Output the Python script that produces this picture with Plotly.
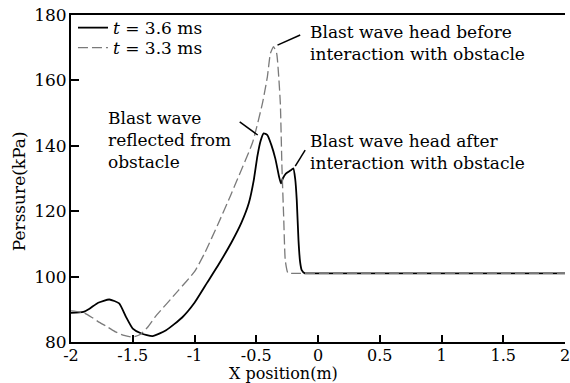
import plotly.graph_objects as go

# t = 3.6 ms (solid)
x_36 = [-2.0, -1.90, -1.85, -1.78, -1.69, -1.61, -1.555, -1.50, -1.43, -1.34, -1.23, -1.10,
        -1.00, -0.90, -0.80, -0.70, -0.62, -0.56, -0.52, -0.49, -0.465, -0.44, -0.41,
        -0.38, -0.345, -0.315, -0.30, -0.285, -0.26, -0.22, -0.20, -0.185, -0.172,
        -0.158, -0.145, -0.132, -0.106, -0.05, 2.0]
p_36 = [88.9, 89.2, 90.2, 92.0, 93.0, 91.8, 87.7, 84.1, 82.6, 81.8, 83.6, 87.5,
        92.0, 98.0, 104.0, 110.5, 116.5, 122.5, 129.5, 137.0, 141.5, 143.8, 143.3,
        140.5, 136.0, 130.5, 128.5, 130.0, 131.5, 132.5, 133.1, 130.0, 123.4,
        111.1, 104.5, 102.0, 101.0, 101.0, 101.0]

# t = 3.3 ms (dashed)
x_33 = [-2.0, -1.90, -1.83, -1.77, -1.70, -1.64, -1.57, -1.50, -1.44, -1.38, -1.32, -1.13,
        -1.00, -0.92, -0.81, -0.70, -0.65, -0.53, -0.45, -0.41, -0.385, -0.36, -0.335,
        -0.318, -0.305, -0.292, -0.278, -0.265, -0.245, -0.23, -0.15, 2.0]
p_33 = [89.5, 89.0, 87.5, 86.0, 84.5, 83.1, 82.0, 81.5, 82.3, 84.5, 87.6, 95.8,
        101.5, 107.0, 116.0, 125.5, 130.0, 141.0, 153.0, 161.1, 168.3, 170.3, 168.3,
        161.1, 153.0, 133.6, 118.3, 105.0, 101.2, 101.0, 101.0, 101.0]

series_names = ["<i>t</i> = 3.6 ms", "<i>t</i> = 3.3 ms"]
x_ticks = [-2, -1.5, -1, -0.5, 0, 0.5, 1, 1.5, 2]
x_tick_text = ["-2", "-1.5", "-1", "-0.5", "0", "0.5", "1", "1.5", "2"]
y_ticks = [80, 100, 120, 140, 160, 180]

FONT = "DejaVu Serif"

fig = go.Figure()
fig.add_trace(go.Scatter(x=x_36, y=p_36, mode="lines", name=series_names[0], legend="legend",
                         line=dict(color="black", width=1.8, shape="spline", smoothing=0.5)))
fig.add_trace(go.Scatter(x=x_33, y=p_33, mode="lines", name=series_names[1], legend="legend2",
                         line=dict(color="#7a7a7a", width=1.3, dash="10px,4px",
                                   shape="spline", smoothing=0.5)))

ann_font = dict(family=FONT, size=17, color="black")
fig.add_annotation(x=-0.082, y=171.4, xref="x", yref="y", xanchor="left", yanchor="middle",
                   align="left", showarrow=False, font=ann_font,
                   text="Blast wave head before<br>interaction with obstacle")
fig.add_annotation(x=-0.082, y=138.0, xref="x", yref="y", xanchor="left", yanchor="middle",
                   align="left", showarrow=False, font=ann_font,
                   text="Blast wave head after<br>interaction with obstacle")
fig.add_annotation(x=-1.72, y=141.7, xref="x", yref="y", xanchor="left", yanchor="middle",
                   align="left", showarrow=False, font=ann_font,
                   text="Blast wave<br>reflected from<br>obstacle")

leader = dict(color="black", width=1.5)
fig.add_shape(type="line", xref="x", yref="y", x0=-0.328, y0=170.8, x1=-0.144, y1=173.9, line=leader)
fig.add_shape(type="line", xref="x", yref="y", x0=-0.104, y0=138.7, x1=-0.184, y1=133.8, line=leader)
fig.add_shape(type="line", xref="x", yref="y", x0=-0.634, y0=147.3, x1=-0.488, y1=143.3, line=leader)

# axis titles
fig.add_annotation(x=0.43, y=-0.096, xref="paper", yref="paper", xanchor="center",
                   yanchor="middle", showarrow=False, text="X position(m)",
                   font=dict(family=FONT, size=16, color="black"))
fig.add_annotation(x=-0.106, y=0.46, xref="paper", yref="paper", xanchor="center",
                   yanchor="middle", showarrow=False, text="Perssure(kPa)", textangle=-90,
                   font=dict(family=FONT, size=17, color="black"))

fig.update_xaxes(range=[-2, 2], tickvals=x_ticks, ticktext=x_tick_text,
                 ticks="inside", ticklen=7, tickwidth=2, tickcolor="black",
                 showline=True, linecolor="black", linewidth=2, mirror=True,
                 showgrid=False, zeroline=False, ticklabeloverflow="allow",
                 ticklabelstandoff=-2,
                 tickfont=dict(family=FONT, size=16, color="black"))
fig.update_yaxes(range=[80, 180], tickvals=y_ticks,
                 ticks="inside", ticklen=8, tickwidth=2, tickcolor="black",
                 showline=True, linecolor="black", linewidth=2,
                 showgrid=False, zeroline=False, ticklabelstandoff=-1,
                 tickfont=dict(family=FONT, size=17, color="black"))

leg_common = dict(xanchor="left", yanchor="middle", bgcolor="rgba(0,0,0,0)",
                  font=dict(family=FONT, size=17, color="black"))
fig.update_layout(
    width=570, height=383,
    margin=dict(l=71, r=0, t=15, b=41),
    paper_bgcolor="white", plot_bgcolor="white",
    showlegend=True,
    legend=dict(x=0.004, y=0.960, **leg_common),
    legend2=dict(x=0.004, y=0.899, **leg_common),
)

fig.write_html("out.html")
